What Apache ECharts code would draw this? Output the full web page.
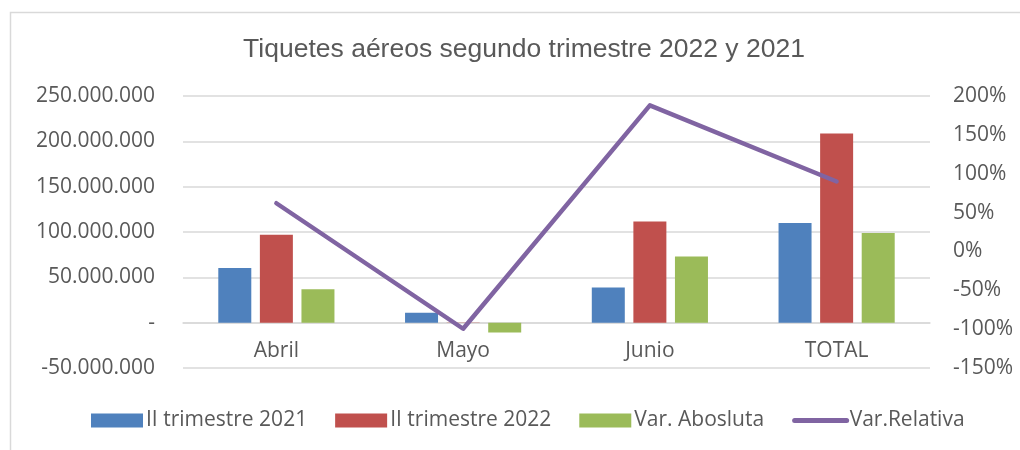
<!DOCTYPE html>
<html>
<head>
<meta charset="utf-8">
<script src="https://cdn.jsdelivr.net/npm/echarts@6/dist/echarts.min.js"></script>
<style>
  html, body { margin: 0; padding: 0; background: #ffffff; }
  #chart { width: 1020px; height: 450px; }
</style>
</head>
<body>
<div id="chart"></div>
<script>
const titleText = 'Tiquetes aéreos segundo trimestre 2022 y 2021';
const months = ['Abril', 'Mayo', 'Junio', 'TOTAL'];
const seriesNames = ['II trimestre 2021', 'II trimestre 2022', 'Var. Abosluta', 'Var.Relativa'];
const trim2021 = [60200000, 11000000, 38700000, 109900000];
const trim2022 = [97100000, 50000, 111600000, 208750000];
const varAbsoluta = [36900000, -10950000, 72900000, 98850000];
const varRelativa = [0.62, -0.995, 1.88, 0.90];

const FONT = '"Open Sans", sans-serif';
const TXT = '#595959';

function fmtThousands(v) {
  if (v === 0) return '-';
  const neg = v < 0;
  const s = Math.round(Math.abs(v)).toString().replace(/\B(?=(\d{3})+(?!\d))/g, '.');
  return (neg ? '-' : '') + s;
}

const chart = echarts.init(document.getElementById('chart'), null, { renderer: 'canvas' });
chart.setOption({
  animation: false,
  backgroundColor: '#ffffff',
  graphic: [{
    type: 'rect',
    shape: { x: 10.5, y: 12.5, width: 1100, height: 600 },
    style: { fill: 'none', stroke: '#d9d9d9', lineWidth: 1.5 },
    silent: true
  }],
  title: {
    text: titleText,
    left: 519,
    textAlign: 'center',
    top: 31,
    textStyle: { fontFamily: '"Liberation Sans", Arial, sans-serif', fontSize: 26.5, fontWeight: 'normal', color: TXT }
  },
  grid: { left: 183, right: 90, top: 96, bottom: 82, containLabel: false },
  legend: {
    data: [
      { name: seriesNames[0], icon: 'rect' },
      { name: seriesNames[1], icon: 'rect' },
      { name: seriesNames[2], icon: 'rect' },
      { name: seriesNames[3], itemStyle: { opacity: 0 } }
    ],
    left: 86,
    top: 405,
    itemWidth: 52,
    itemHeight: 14,
    itemGap: 28,
    lineStyle: { width: 5, cap: 'round' },
    textStyle: { fontFamily: FONT, fontSize: 21, color: TXT, padding: [0, 0, 0, -2] }
  },
  xAxis: {
    type: 'category',
    data: months,
    offset: -45.33,
    axisLine: { show: true, onZero: false, lineStyle: { color: '#d9d9d9', width: 1.5 } },
    axisTick: { show: false },
    axisLabel: { fontFamily: FONT, fontSize: 21, color: TXT, margin: 18 }
  },
  yAxis: [{
    type: 'value',
    min: -50000000,
    max: 250000000,
    interval: 50000000,
    axisLine: { show: false },
    axisTick: { show: false },
    splitLine: { lineStyle: { color: '#d9d9d9', width: 1.5 } },
    axisLabel: { fontFamily: FONT, fontSize: 21, color: TXT, margin: 28, formatter: fmtThousands }
  }, {
    type: 'value',
    min: -1.5,
    max: 2,
    interval: 0.5,
    position: 'right',
    axisLine: { show: false },
    axisTick: { show: false },
    splitLine: { show: false },
    axisLabel: { fontFamily: FONT, fontSize: 21, color: TXT, margin: 23,
      formatter: v => Math.round(v * 100) + '%' }
  }],
  series: [{
    name: seriesNames[0],
    type: 'bar',
    data: trim2021,
    barWidth: 33,
    barGap: '26%',
    itemStyle: { color: '#4f81bd' }
  }, {
    name: seriesNames[1],
    type: 'bar',
    data: trim2022,
    barWidth: 33,
    barGap: '26%',
    itemStyle: { color: '#c0504d' }
  }, {
    name: seriesNames[2],
    type: 'bar',
    data: varAbsoluta,
    barWidth: 33,
    barGap: '26%',
    itemStyle: { color: '#9bbb59' }
  }, {
    name: seriesNames[3],
    type: 'line',
    yAxisIndex: 1,
    data: varRelativa,
    symbol: 'none',
    itemStyle: { color: '#8064a2' },
    lineStyle: { color: '#8064a2', width: 4.5, cap: 'round', join: 'round' }
  }]
});
</script>
</body>
</html>
